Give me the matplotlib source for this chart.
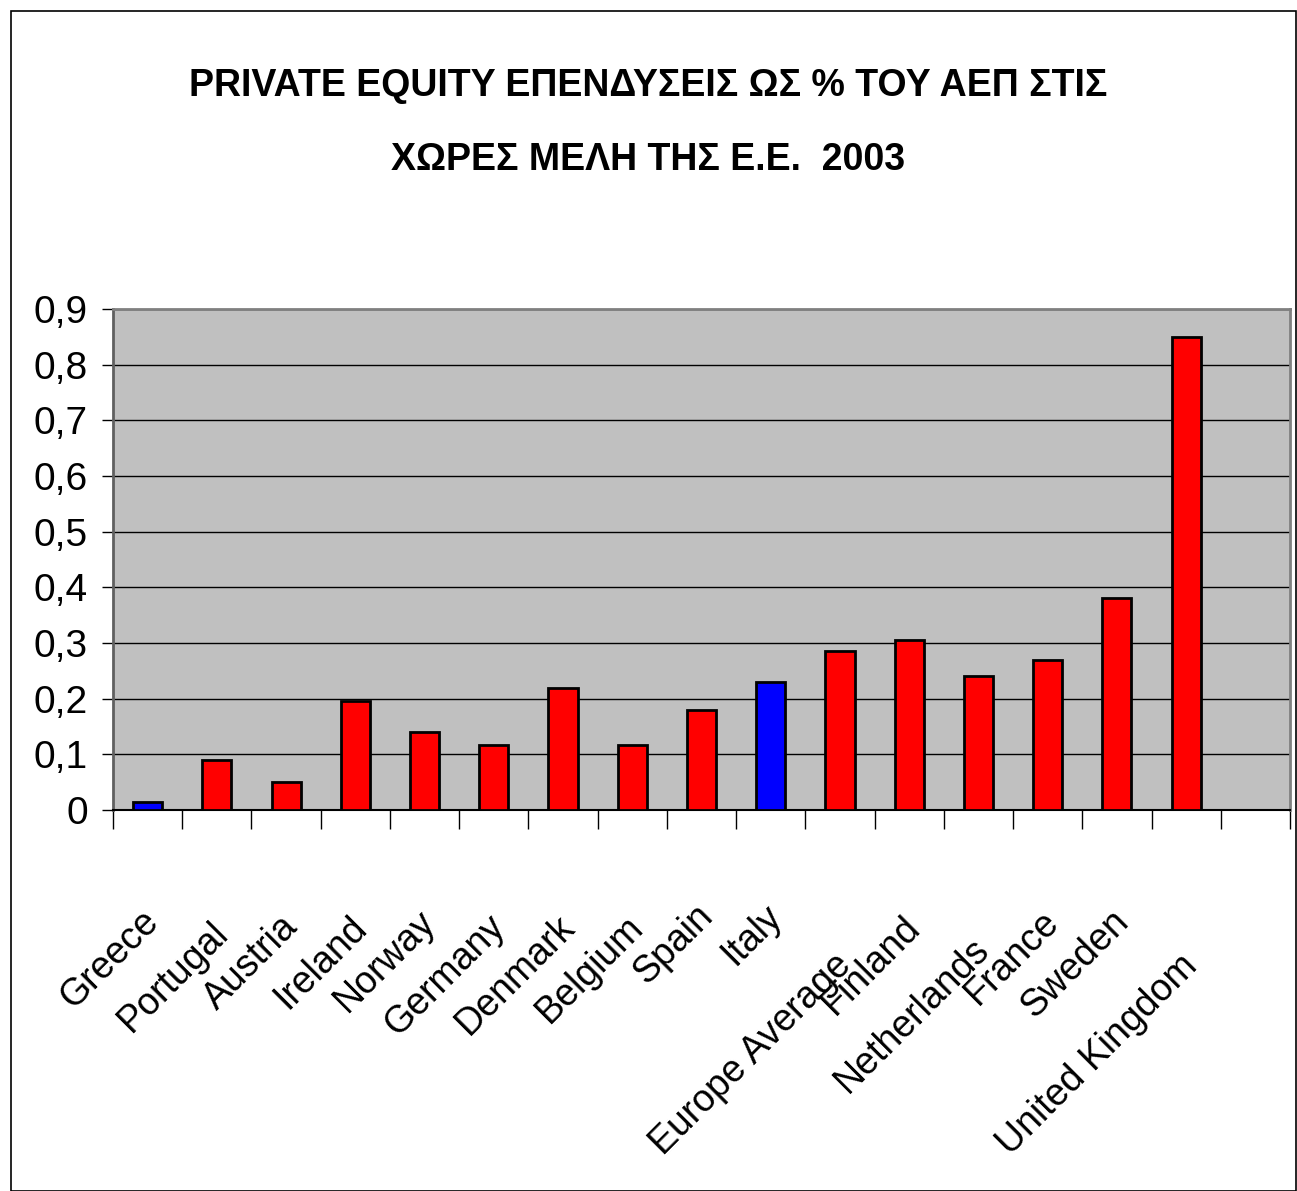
import matplotlib
matplotlib.use('Agg')
import matplotlib.pyplot as plt
from matplotlib.patches import Rectangle
from matplotlib.transforms import offset_copy

plt.rcParams['font.family'] = ['Liberation Sans', 'DejaVu Sans']

# Private equity investment as % of GDP, 2003
countries = ['Greece', 'Portugal', 'Austria', 'Ireland', 'Norway', 'Germany',
             'Denmark', 'Belgium', 'Spain', 'Italy', 'Europe Average', 'Finland',
             'Netherlands', 'France', 'Sweden', 'United Kingdom']
values = [0.015, 0.09, 0.05, 0.196, 0.14, 0.116, 0.22, 0.116, 0.18, 0.23,
          0.285, 0.306, 0.24, 0.27, 0.38, 0.85]
colors = ['#0000FF', '#FF0000', '#FF0000', '#FF0000', '#FF0000', '#FF0000',
          '#FF0000', '#FF0000', '#FF0000', '#0000FF', '#FF0000', '#FF0000',
          '#FF0000', '#FF0000', '#FF0000', '#FF0000']
yticks = [0, 0.1, 0.2, 0.3, 0.4, 0.5, 0.6, 0.7, 0.8, 0.9]
ytick_labels = ['0', '0,1', '0,2', '0,3', '0,4', '0,5', '0,6', '0,7', '0,8', '0,9']
n_slots = 17

fig = plt.figure(figsize=(12.97, 11.91), dpi=100)
fig.patches.append(Rectangle((11 / 1297, 0), 1285 / 1297, 1 - 11 / 1191,
                             transform=fig.transFigure, fill=False,
                             edgecolor='black', linewidth=1.2))

ax = fig.add_axes([113 / 1297, 1 - 810 / 1191, 1177 / 1297, 501 / 1191])
ax.set_facecolor('#C0C0C0')

x = list(range(len(values)))
ax.bar(x, values, width=0.42, color=colors, edgecolor='black', linewidth=2, zorder=3)

ax.set_xlim(-0.5, n_slots - 0.5)
ax.set_ylim(0, 0.9)
ax.set_yticks(yticks)
ax.set_yticklabels(ytick_labels, fontsize=28)
ax.yaxis.grid(True, color='black', linewidth=1)
ax.set_axisbelow(True)
ax.tick_params(axis='y', length=8, width=1, pad=10)

# category boundaries as downward ticks
ax.set_xticks([i - 0.5 for i in range(n_slots + 1)])
ax.set_xticklabels([])
ax.tick_params(axis='x', length=14, width=1, direction='out')

for side in ['top', 'right']:
    ax.spines[side].set_color('#808080')
    ax.spines[side].set_linewidth(2)
ax.spines['left'].set_color('#606060')
ax.spines['left'].set_linewidth(2)
ax.spines['bottom'].set_color('black')
ax.spines['bottom'].set_linewidth(1.5)

# rotated category names, ending near each slot
for i, name in enumerate(countries):
    drop = 88 + 5.5 * (len(name) - 5)
    tr = offset_copy(ax.get_xaxis_transform(), fig=fig, x=0, y=-drop, units='dots')
    ax.text(i - 0.1, 0, name, transform=tr, rotation=45, rotation_mode='anchor',
            ha='right', va='top', fontsize=27)

fig.text(0.5, 1 - 86 / 1191, 'PRIVATE EQUITY ΕΠΕΝΔΥΣΕΙΣ ΩΣ % ΤΟΥ ΑΕΠ ΣΤΙΣ',
         ha='center', va='center', fontsize=27, fontweight='bold')
fig.text(0.5, 1 - 160 / 1191, 'ΧΩΡΕΣ ΜΕΛΗ ΤΗΣ Ε.Ε.  2003',
         ha='center', va='center', fontsize=27, fontweight='bold')

fig.savefig('out.png', dpi=100)
